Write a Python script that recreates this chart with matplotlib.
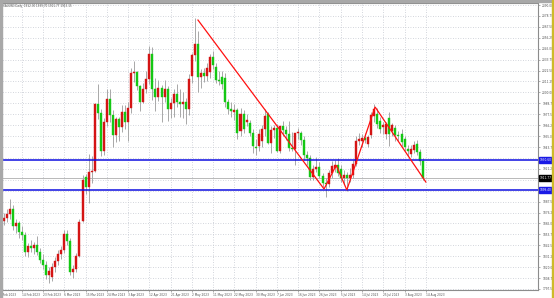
import matplotlib
matplotlib.use("Agg")
import matplotlib.pyplot as plt
from matplotlib.patches import Rectangle
from matplotlib.transforms import blended_transform_factory

# ---------------- data ----------------
opens = [1864, 1868, 1871, 1875, 1880, 1862, 1865, 1856, 1853, 1836,
         1842, 1840, 1843, 1836, 1827, 1822, 1812, 1810, 1820, 1826,
         1834, 1838, 1854, 1847, 1815, 1818, 1832, 1868, 1913, 1903,
         1918, 1919, 1988, 1979, 1940, 1970, 1993, 1977, 1956, 1973,
         1964, 1980, 1969, 1984, 2020, 2021, 2007, 1990, 2003, 2014,
         2040, 2004, 1995, 2005, 1995, 2004, 1983, 1989, 1998, 1990,
         1988, 1990, 1983, 2017, 2039, 2050, 2016, 2020, 2017, 2021,
         2036, 2026, 2013, 2016, 2015, 1990, 1983, 1980, 1982, 1960,
         1978, 1970, 1968, 1958, 1944, 1945, 1950, 1962, 1978, 1948,
         1961, 1963, 1940, 1965, 1961, 1957, 1943, 1942, 1958, 1958,
         1951, 1936, 1932, 1913, 1921, 1923, 1914, 1907, 1906, 1917,
         1922, 1925, 1921, 1912, 1915, 1912, 1915, 1926, 1950, 1950,
         1953, 1947, 1956, 1976, 1978, 1971, 1964, 1957, 1974, 1960,
         1963, 1956, 1957, 1952, 1942, 1937, 1941, 1947, 1939, 1929]
highs = [1872, 1876, 1880, 1890, 1884, 1870, 1868, 1862, 1856, 1845,
         1848, 1846, 1852, 1840, 1834, 1826, 1820, 1824, 1830, 1838,
         1842, 1858, 1858, 1850, 1822, 1835, 1870, 1915, 1916, 1937,
         1934, 1989, 2009, 1983, 1974, 2003, 2004, 1982, 1975, 1975,
         1987, 1987, 1990, 2025, 2032, 2022, 2008, 2010, 2022, 2048,
         2047, 2015, 2013, 2008, 2013, 2007, 1994, 2004, 2009, 2003,
         2000, 1994, 2019, 2041, 2077, 2063, 2024, 2025, 2030, 2040,
         2043, 2030, 2022, 2022, 2020, 1993, 1990, 1988, 1984, 1984,
         1982, 1978, 1972, 1962, 1952, 1962, 1966, 1983, 1980, 1965,
         1966, 1967, 1965, 1971, 1965, 1971, 1959, 1958, 1963, 1960,
         1955, 1940, 1935, 1925, 1933, 1928, 1917, 1912, 1920, 1929,
         1930, 1932, 1925, 1920, 1918, 1922, 1930, 1955, 1958, 1957,
         1958, 1956, 1980, 1988, 1984, 1975, 1970, 1970, 1980, 1968,
         1966, 1960, 1962, 1955, 1946, 1946, 1950, 1951, 1942, 1932]
lows = [1860, 1863, 1866, 1870, 1858, 1855, 1850, 1848, 1832, 1830,
        1836, 1834, 1833, 1824, 1818, 1808, 1804, 1806, 1815, 1822,
        1828, 1835, 1843, 1812, 1809, 1815, 1830, 1866, 1895, 1886,
        1907, 1918, 1973, 1934, 1935, 1965, 1970, 1944, 1949, 1950,
        1959, 1962, 1950, 1979, 2011, 2002, 1981, 1989, 1999, 2009,
        1992, 1981, 1991, 1969, 1990, 1971, 1974, 1975, 1985, 1975,
        1974, 1967, 1977, 2010, 2032, 2000, 2005, 2011, 2012, 2015,
        2024, 2010, 2008, 2004, 1985, 1978, 1975, 1972, 1952, 1955,
        1958, 1965, 1955, 1938, 1936, 1940, 1944, 1955, 1947, 1938,
        1953, 1939, 1938, 1955, 1951, 1940, 1940, 1925, 1952, 1946,
        1930, 1925, 1910, 1910, 1918, 1912, 1903, 1892, 1903, 1912,
        1918, 1914, 1908, 1906, 1898, 1908, 1912, 1924, 1946, 1944,
        1948, 1944, 1953, 1970, 1963, 1958, 1957, 1952, 1945, 1955,
        1950, 1950, 1945, 1940, 1934, 1933, 1938, 1935, 1925, 1910]
closes = [1868, 1871, 1875, 1880, 1862, 1865, 1856, 1853, 1836, 1842,
          1840, 1843, 1836, 1827, 1822, 1812, 1816, 1820, 1826, 1834,
          1838, 1854, 1847, 1815, 1818, 1832, 1866, 1910, 1903, 1918,
          1919, 1988, 1979, 1940, 1970, 1993, 1977, 1956, 1973, 1964,
          1980, 1969, 1984, 2020, 2021, 2007, 1990, 2003, 2014, 2040,
          2004, 1995, 2005, 1995, 2004, 1983, 1989, 1998, 1990, 1988,
          1990, 1983, 2014, 2039, 2050, 2016, 2020, 2017, 2025, 2036,
          2028, 2013, 2012, 2009, 1990, 1983, 1981, 1982, 1958, 1978,
          1962, 1972, 1958, 1945, 1943, 1957, 1962, 1976, 1948, 1961,
          1963, 1940, 1965, 1961, 1957, 1943, 1942, 1958, 1958, 1951,
          1936, 1932, 1913, 1921, 1923, 1914, 1907, 1906, 1917, 1924,
          1925, 1917, 1912, 1915, 1912, 1915, 1926, 1950, 1952, 1953,
          1951, 1954, 1977, 1983, 1967, 1962, 1966, 1967, 1957, 1966,
          1956, 1955, 1949, 1944, 1940, 1942, 1946, 1939, 1929, 1912]

x_tick_labels = ["1 Feb 2023", "14 Feb 2023", "23 Feb 2023", "6 Mar 2023",
                 "15 Mar 2023", "24 Mar 2023", "3 Apr 2023", "12 Apr 2023",
                 "21 Apr 2023", "2 May 2023", "11 May 2023", "22 May 2023",
                 "30 May 2023", "7 Jun 2023", "16 Jun 2023", "26 Jun 2023",
                 "5 Jul 2023", "14 Jul 2023", "25 Jul 2023", "3 Aug 2023",
                 "14 Aug 2023"]
bars_per_label = 7

y_tick_top = 2090.00
y_tick_step = 11.25
y_tick_count = 27

support_levels = [1930.60, 1899.40]
current_price = 1911.77
header = "XAUUSD,Daily  1912.30 1939.70 1911.77 1913.15"

zigzag_idx = [65.0, 106.5, 110.5, 114.0, 123.3, 140.0]
zigzag_price = [2074.5, 1900.5, 1925.0, 1899.5, 1985.0, 1907.7]

# ---------------- figure ----------------
W, H = 554, 298
fig = plt.figure(figsize=(W / 100, H / 100), dpi=100)
fig.patch.set_facecolor("white")
ax = fig.add_axes([0 / W, 8 / H, 538 / W, 287 / H])
ax.set_facecolor("white")

px_per_bar = 3.038
ax.set_xlim((0 - 0.5) / px_per_bar, (538 - 0.5) / px_per_bar)
ax.set_ylim(1796.47, 2092.06)

# grid
yticks = [y_tick_top - i * y_tick_step for i in range(y_tick_count)]
xticks = [i * bars_per_label for i in range(len(x_tick_labels))]
for yv in yticks:
    ax.axhline(yv, color="#c4c8d0", lw=0.6, ls=(0, (1, 2)), zorder=0)
for xv in xticks:
    ax.axvline(xv, color="#c4c8d0", lw=0.6, ls=(0, (1, 2)), zorder=0)

# bid line
ax.axhline(current_price, color="#b8b8b8", lw=0.7, zorder=1)

# candles
idx = list(range(len(closes)))
up_col = "#d41414"
dn_col = "#14c814"
wick_col = "#a8a8a8"
ax.vlines(idx, lows, highs, color=wick_col, lw=0.7, zorder=2)
bottoms = [min(o, c) for o, c in zip(opens, closes)]
heights = [max(abs(c - o), 0.9) for o, c in zip(opens, closes)]
colors = [up_col if c >= o else dn_col for o, c in zip(opens, closes)]
ax.bar(idx, heights, bottom=bottoms, width=0.66, color=colors,
       edgecolor=colors, linewidth=0.3, zorder=3)

# horizontal levels
for lv in support_levels:
    ax.axhline(lv, color="#1010e0", lw=1.1, zorder=4)

# zigzag trend lines
ax.plot(zigzag_idx, zigzag_price, color="#ff1010", lw=0.9, zorder=5,
        solid_joinstyle="miter")

# axes styling
ax.yaxis.tick_right()
ax.set_yticks(yticks)
ylabels = []
for yv in yticks:
    hide = any(abs(yv - lv) < 4 for lv in support_levels + [current_price])
    ylabels.append("" if hide else f"{yv:.2f}")
ax.set_yticklabels(ylabels, fontsize=2.1, color="#505050")
ax.set_xticks(xticks)
ax.set_xticklabels(x_tick_labels, fontsize=2.1, color="#505050", ha="left")
ax.tick_params(axis="y", length=1.5, width=0.4, pad=1.5, colors="#707070",
               labelcolor="#505050")
ax.tick_params(axis="x", length=1.5, width=0.4, pad=1.0, colors="#707070",
               labelcolor="#505050")
for lab in ax.get_xticklabels():
    lab.set_x(0)
for s in ["top", "bottom", "right"]:
    ax.spines[s].set_color("#8c8c8c")
    ax.spines[s].set_linewidth(0.8)
ax.spines["left"].set_visible(False)

# price boxes on the axis
tr = blended_transform_factory(ax.transAxes, ax.transData)
for lv in support_levels:
    ax.text(1.003, lv, f"{lv:.2f}", transform=tr, fontsize=2.1, color="white",
            va="center", ha="left", clip_on=False, zorder=6,
            bbox=dict(boxstyle="square,pad=0.35", fc="#1a1ae6", ec="#1a1ae6"))
ax.text(1.003, current_price, f"{current_price:.2f}", transform=tr,
        fontsize=2.1, color="white", va="center", ha="left", clip_on=False,
        zorder=6, bbox=dict(boxstyle="square,pad=0.35", fc="#000000", ec="#000000"))

# window frame
fig.add_artist(Rectangle((0, 1 - 2 / H), 1, 2 / H, transform=fig.transFigure,
                         color="#a8a8a8", zorder=10))
fig.add_artist(Rectangle((0, 0), 1.5 / W, 1, transform=fig.transFigure,
                         color="#a8a8a8", zorder=10))
fig.add_artist(Rectangle((1 - 2 / W, 0), 2 / W, 1, transform=fig.transFigure,
                         color="#cdbb2a", zorder=10))

fig.text(3 / W, 1 - 5.5 / H, header, fontsize=2.0, color="#505050",
         va="center", ha="left")

fig.savefig("out.png", dpi=100, facecolor="white")
